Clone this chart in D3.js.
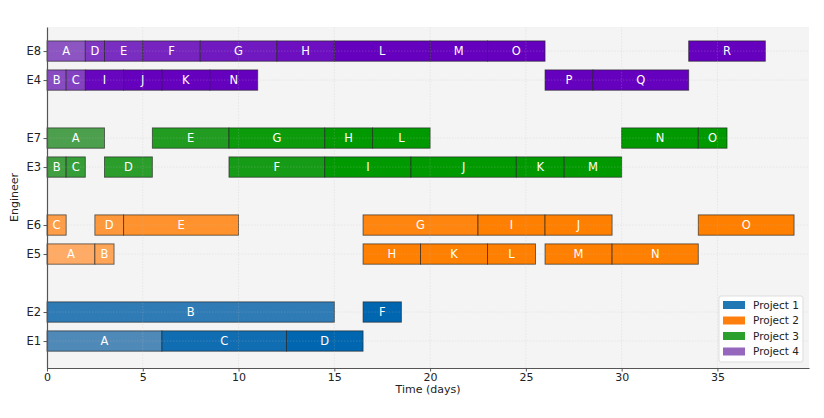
<!DOCTYPE html>
<html>
<head>
<meta charset="utf-8">
<script src="https://cdn.jsdelivr.net/npm/d3@7"></script>
<style>
  body { margin: 0; background: #fff; }
  svg { display: block; font-family: "DejaVu Sans", sans-serif; }
</style>
</head>
<body>
<div id="app"></div>
<script>
// Row order, bottom to top (null = gap between teams)
const rows = ["E1", "E2", null, "E5", "E6", null, "E3", "E7", null, "E4", "E8"];

const projects = ["Project 1", "Project 2", "Project 3", "Project 4"];

// Tasks: [engineer, task, start, end] in days
const project1 = [
  ["E1", "A", 0, 6], ["E2", "B", 0, 15], ["E1", "C", 6, 12.5],
  ["E1", "D", 12.5, 16.5], ["E2", "F", 16.5, 18.5]
];
const project2 = [
  ["E5", "A", 0, 2.5], ["E5", "B", 2.5, 3.5], ["E6", "C", 0, 1],
  ["E6", "D", 2.5, 4], ["E6", "E", 4, 10], ["E6", "G", 16.5, 22.5],
  ["E5", "H", 16.5, 19.5], ["E6", "I", 22.5, 26], ["E6", "J", 26, 29.5],
  ["E5", "K", 19.5, 23], ["E5", "L", 23, 25.5], ["E5", "M", 26, 29.5],
  ["E5", "N", 29.5, 34], ["E6", "O", 34, 39]
];
const project3 = [
  ["E7", "A", 0, 3], ["E3", "B", 0, 1], ["E3", "C", 1, 2],
  ["E3", "D", 3, 5.5], ["E7", "E", 5.5, 9.5], ["E3", "F", 9.5, 14.5],
  ["E7", "G", 9.5, 14.5], ["E7", "H", 14.5, 17], ["E3", "I", 14.5, 19],
  ["E3", "J", 19, 24.5], ["E3", "K", 24.5, 27], ["E7", "L", 17, 20],
  ["E3", "M", 27, 30], ["E7", "N", 30, 34], ["E7", "O", 34, 35.5]
];
const project4 = [
  ["E8", "A", 0, 2], ["E4", "B", 0, 1], ["E4", "C", 1, 2],
  ["E8", "D", 2, 3], ["E8", "E", 3, 5], ["E8", "F", 5, 8],
  ["E8", "G", 8, 12], ["E8", "H", 12, 15], ["E4", "I", 2, 4],
  ["E4", "J", 4, 6], ["E4", "K", 6, 8.5], ["E8", "L", 15, 20],
  ["E8", "M", 20, 23], ["E4", "N", 8.5, 11], ["E8", "O", 23, 26],
  ["E4", "P", 26, 28.5], ["E4", "Q", 28.5, 33.5], ["E8", "R", 33.5, 37.5]
];

const xTicks = [0, 5, 10, 15, 20, 25, 30, 35];

// Colours: legend colour, plus light/deep ends for the per-task shading
const legendColors = ["#1f77b4", "#ff7f0e", "#2ca02c", "#9467bd"];
const lightColors = ["#4f89b8", "#ffab66", "#4c9f4c", "#8c55c2"];
const deepColors = ["#0066b0", "#ff7f00", "#009a00", "#6600bf"];

const width = 824, height = 418;
const margin = { top: 27, right: 15, bottom: 50, left: 47 };

const svg = d3.select("#app")
  .append("svg")
  .attr("width", width)
  .attr("height", height);

const x = d3.scaleLinear()
  .domain([0, 39.78])
  .range([margin.left, width - margin.right]);

const y = d3.scaleLinear()
  .domain([-0.93, rows.length - 1 + 0.83])
  .range([height - margin.bottom, margin.top]);

const barH = y(0) - y(0.7);

// Plot background
svg.append("rect")
  .attr("x", margin.left)
  .attr("y", margin.top)
  .attr("width", width - margin.right - margin.left)
  .attr("height", height - margin.bottom - margin.top)
  .attr("fill", "#f4f4f4");

// Flatten tasks with project index and shade
const allProjects = [project1, project2, project3, project4];
const tasks = [];
allProjects.forEach((list, p) => {
  const maxI = d3.max(list, (d) => d[1].charCodeAt(0) - 65);
  list.forEach((d) => {
    const i = d[1].charCodeAt(0) - 65;
    const t = Math.min(1, (2 * i) / maxI);
    tasks.push({
      eng: d[0], task: d[1], start: d[2], end: d[3], p,
      color: d3.interpolateRgb(lightColors[p], deepColors[p])(t)
    });
  });
});

// Bars
svg.append("g")
  .selectAll("rect")
  .data(tasks)
  .join("rect")
  .attr("x", (d) => x(d.start))
  .attr("y", (d) => y(rows.indexOf(d.eng)) - barH / 2)
  .attr("width", (d) => x(d.end) - x(d.start))
  .attr("height", barH)
  .attr("fill", (d) => d.color)
  .attr("stroke", "#222")
  .attr("stroke-opacity", 0.7)
  .attr("stroke-width", 0.9);

// Bar labels
svg.append("g")
  .selectAll("text")
  .data(tasks)
  .join("text")
  .attr("x", (d) => x((d.start + d.end) / 2))
  .attr("y", (d) => y(rows.indexOf(d.eng)))
  .attr("dy", "0.36em")
  .attr("text-anchor", "middle")
  .attr("fill", "#fff")
  .attr("font-size", 11.5)
  .text((d) => d.task);

// Grid (drawn over the bars, faint)
const grid = svg.append("g")
  .attr("stroke", "#bbb")
  .attr("stroke-opacity", 0.3)
  .attr("stroke-width", 0.8)
  .attr("stroke-dasharray", "1.5,1.5");
grid.selectAll("line.v")
  .data(xTicks.slice(1))
  .join("line")
  .attr("class", "v")
  .attr("x1", (d) => x(d)).attr("x2", (d) => x(d))
  .attr("y1", margin.top).attr("y2", height - margin.bottom);
grid.selectAll("line.h")
  .data(rows.filter((r) => r))
  .join("line")
  .attr("class", "h")
  .attr("x1", margin.left).attr("x2", width - margin.right)
  .attr("y1", (d) => y(rows.indexOf(d))).attr("y2", (d) => y(rows.indexOf(d)));

// X axis
const xAxis = svg.append("g")
  .attr("transform", `translate(0,${height - margin.bottom})`)
  .call(d3.axisBottom(x).tickValues(xTicks).tickSize(3.5).tickSizeOuter(0).tickPadding(1.5));
xAxis.select(".domain").attr("stroke", "#555").attr("stroke-width", 1.2);
xAxis.selectAll(".tick line").attr("stroke", "#555");
xAxis.selectAll(".tick text")
  .attr("font-size", 11)
  .attr("fill", "#222")
  .attr("font-family", "DejaVu Sans, sans-serif");

// Y axis
const yAxis = svg.append("g")
  .attr("transform", `translate(${margin.left},0)`)
  .call(
    d3.axisLeft(y)
      .tickValues(rows.map((r, i) => (r ? i : null)).filter((i) => i !== null))
      .tickFormat((i) => rows[i])
      .tickSize(3.5)
      .tickSizeOuter(0)
      .tickPadding(2.5)
  );
yAxis.select(".domain").attr("stroke", "#555").attr("stroke-width", 1.2);
yAxis.selectAll(".tick line").attr("stroke", "#555");
yAxis.selectAll(".tick text")
  .attr("font-size", 11.5)
  .attr("fill", "#222")
  .attr("font-family", "DejaVu Sans, sans-serif");

// Axis titles
svg.append("text")
  .attr("x", (margin.left + width - margin.right) / 2)
  .attr("y", 393)
  .attr("text-anchor", "middle")
  .attr("font-size", 11)
  .attr("fill", "#222")
  .text("Time (days)");

svg.append("text")
  .attr("transform", `translate(18,${(margin.top + height - margin.bottom) / 2}) rotate(-90)`)
  .attr("text-anchor", "middle")
  .attr("font-size", 11)
  .attr("fill", "#222")
  .text("Engineer");

// Legend
const legend = svg.append("g").attr("transform", "translate(719,296)");
legend.append("rect")
  .attr("width", 84)
  .attr("height", 66)
  .attr("rx", 2)
  .attr("fill", "#fff")
  .attr("fill-opacity", 0.85)
  .attr("stroke", "#ddd");
const items = legend.selectAll("g")
  .data(projects)
  .join("g")
  .attr("transform", (d, i) => `translate(4,${9 + i * 15.5})`);
items.append("rect")
  .attr("x", 0).attr("y", -4)
  .attr("width", 22).attr("height", 8)
  .attr("fill", (d, i) => legendColors[i]);
items.append("text")
  .attr("x", 30)
  .attr("dy", "0.35em")
  .attr("font-size", 10.5)
  .attr("fill", "#222")
  .text((d) => d);
</script>
</body>
</html>
